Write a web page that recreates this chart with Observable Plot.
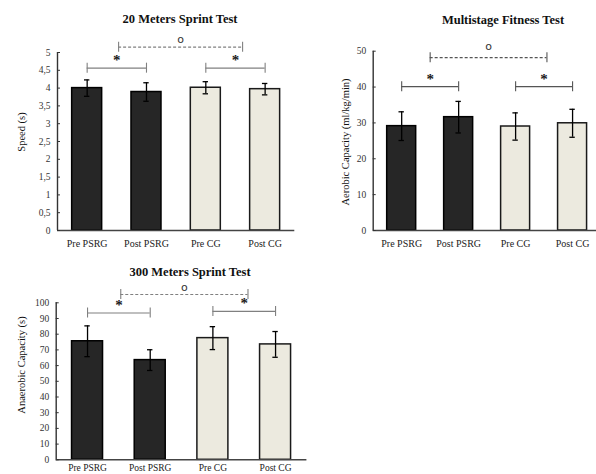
<!DOCTYPE html>
<html><head><meta charset="utf-8">
<script src="https://cdn.jsdelivr.net/npm/d3@7"></script>
<script src="https://cdn.jsdelivr.net/npm/@observablehq/plot@0.6"></script>
<style>
body{margin:0;background:#fff;width:596px;height:474px;overflow:hidden;position:relative;font-family:"Liberation Serif",serif;}
.panel{position:absolute;}
.panel svg{overflow:visible;}
.title{position:absolute;width:240px;text-align:center;font-weight:bold;font-size:12.5px;line-height:14px;color:#111;white-space:nowrap;}
.ylab{position:absolute;transform:translate(-50%,-50%) rotate(-90deg);white-space:nowrap;font-size:10.5px;color:#111;}
</style></head><body>
<script>
// ---- data ----
const groups = ["Pre PSRG", "Post PSRG", "Pre CG", "Post CG"];

const sprint20Mean = [4.00, 3.89, 4.01, 3.97];
const sprint20SD   = [0.23, 0.26, 0.17, 0.16];
const sprint20Ticks = [0, 0.5, 1, 1.5, 2, 2.5, 3, 3.5, 4, 4.5, 5];
const sprint20Brackets = [
  {from: 0, to: 1, y: 4.56, type: "solid", mark: "*"},
  {from: 2, to: 3, y: 4.56, type: "solid", mark: "*"},
  {from: 0.53, to: 2.62, y: 5.15, type: "dashed", mark: "o"}
];

const multistageMean = [29.1, 31.6, 29.0, 29.9];
const multistageSD   = [4.0, 4.4, 3.8, 3.9];
const multistageTicks = [0, 10, 20, 30, 40, 50];
const multistageBrackets = [
  {from: 0, to: 1, y: 40.1, type: "solid", mark: "*"},
  {from: 2, to: 3, y: 40.1, type: "solid", mark: "*"},
  {from: 0.5, to: 2.55, y: 48.2, type: "dashed", mark: "o"}
];

const sprint300Mean = [75.5, 63.5, 77.5, 73.5];
const sprint300SD   = [9.8, 6.6, 7.3, 8.2];
const sprint300Ticks = [0, 10, 20, 30, 40, 50, 60, 70, 80, 90, 100];
const sprint300Brackets = [
  {from: 0, to: 1, y: 93.5, type: "solid", mark: "*"},
  {from: 2, to: 3, y: 94.5, type: "solid", mark: "*"},
  {from: 0.53, to: 2.56, y: 105.3, type: "dashed", mark: "o"}
];

// ---- drawing ----
const darkFill = "#262626", lightFill = "#eceadf";

function panel(o) {
  const rows = groups.map((g, i) => ({g, i, m: o.means[i], sd: o.sds[i], light: i >= 2}));
  const caps = rows.flatMap(d => [{i: d.i, y: d.m - d.sd}, {i: d.i, y: d.m + d.sd}]);
  const ends = o.brackets.flatMap(b => [{x: b.from, y: b.y}, {x: b.to, y: b.y}]);
  const solid = o.brackets.filter(b => b.type === "solid");
  const dashed = o.brackets.filter(b => b.type === "dashed");
  return Plot.plot({
    width: o.width, height: o.height,
    marginLeft: o.mL, marginRight: o.mR, marginTop: o.mT, marginBottom: o.mB,
    x: {type: "linear", domain: [-0.5, o.xMax], axis: null},
    y: {domain: [0, o.yMax], axis: null},
    style: {fontFamily: "'Liberation Serif', serif", fontSize: "10px", color: "#222", background: "transparent", overflow: "visible"},
    marks: [
      Plot.rect(rows.filter(d => !d.light), {x1: "i", x2: "i", y1: 0, y2: "m", insetLeft: -o.barW / 2, insetRight: -o.barW / 2, fill: darkFill, stroke: "#000", strokeWidth: 1.5}),
      Plot.rect(rows.filter(d => d.light), {x1: "i", x2: "i", y1: 0, y2: "m", insetLeft: -o.barW / 2, insetRight: -o.barW / 2, fill: lightFill, stroke: "#1a1a1a", strokeWidth: 1.5}),
      Plot.ruleX(rows, {x: "i", y1: d => d.m - d.sd, y2: d => d.m + d.sd, stroke: "#000", strokeWidth: 1.3}),
      Plot.ruleY(caps, {y: "y", x1: "i", x2: "i", insetLeft: -2.7, insetRight: -2.7, stroke: "#000", strokeWidth: 1.3}),
      Plot.ruleY(solid, {y: "y", x1: "from", x2: "to", stroke: o.bracketColor, strokeWidth: 1.2}),
      Plot.ruleY(dashed, {y: "y", x1: "from", x2: "to", stroke: o.bracketColor, strokeWidth: 1.1, strokeDasharray: "3,2"}),
      Plot.ruleX(ends, {x: "x", y1: "y", y2: "y", insetTop: -5, insetBottom: -5, stroke: o.bracketColor, strokeWidth: 1.1}),
      Plot.text(solid, {x: d => (d.from + d.to) / 2, y: "y", text: "mark", dy: -8, fontSize: 15, fontWeight: "bold", fill: "#1a1a1a"}),
      Plot.text(dashed, {x: d => (d.from + d.to) / 2, y: "y", text: "mark", dy: o.circleDy, fontSize: 11, fontFamily: "DejaVu Sans", fill: "#333"}),
      Plot.ruleX([-0.5], {stroke: "#333", strokeWidth: 1.4}),
      Plot.ruleY([0], {stroke: "#444", strokeWidth: 1.4}),
      Plot.axisY(o.yTicks, {tickSize: 3, dx: 3, tickFormat: () => "", stroke: "#333"}),
      Plot.axisY(o.yTicks, {tickSize: 0, tickPadding: 7, tickFormat: o.yFmt, fontSize: 9.5, fill: "#333"}),
      Plot.axisX([0, 1, 2, 3], {tickSize: 0, tickPadding: o.xPad, tickFormat: i => groups[i], fontSize: o.xFont, fill: "#222"})
    ]
  });
}

function addPanel(left, top, plot, title, tx, ty, ylab, lx, ly) {
  const div = document.createElement("div");
  div.className = "panel";
  div.style.left = left + "px"; div.style.top = top + "px";
  div.appendChild(plot);
  document.body.appendChild(div);
  const t = document.createElement("div");
  t.className = "title"; t.textContent = title;
  t.style.left = (tx - 120) + "px"; t.style.top = (ty - 7) + "px";
  document.body.appendChild(t);
  const l = document.createElement("div");
  l.className = "ylab"; l.textContent = ylab;
  l.style.left = lx + "px"; l.style.top = ly + "px";
  document.body.appendChild(l);
}

const commaFmt = d => String(d).replace(".", ",");

addPanel(0, 0, panel({
  means: sprint20Mean, sds: sprint20SD, brackets: sprint20Brackets, yTicks: sprint20Ticks, yFmt: commaFmt,
  yMax: 5, width: 300, height: 256, mL: 57, mR: 5.7, mT: 52, mB: 26, xMax: 3.5, barW: 30, bracketColor: "#808080", xPad: 9, xFont: 10, circleDy: -8
}), "20 Meters Sprint Test", 180, 19, "Speed (s)", 21, 132);

addPanel(300, 0, panel({
  means: multistageMean, sds: multistageSD, brackets: multistageBrackets, yTicks: multistageTicks, yFmt: d => String(d),
  yMax: 50, width: 296, height: 256, mL: 72.7, mR: 0, mT: 50.7, mB: 26, xMax: 3.42, barW: 29, bracketColor: "#555", xPad: 9, xFont: 10, circleDy: -11
}), "Multistage Fitness Test", 503, 20, "Aerobic Capacity (ml/kg/min)", 345, 142);

addPanel(0, 250, panel({
  means: sprint300Mean, sds: sprint300SD, brackets: sprint300Brackets, yTicks: sprint300Ticks, yFmt: d => String(d),
  yMax: 100, width: 310, height: 224, mL: 55.7, mR: 3.6, mT: 52.3, mB: 14.7, xMax: 3.5, barW: 31, bracketColor: "#808080", xPad: 4, xFont: 9.5, circleDy: -7.5
}), "300 Meters Sprint Test", 190, 272, "Anaerobic Capacity (s)", 21, 365);
</script>
</body></html>
